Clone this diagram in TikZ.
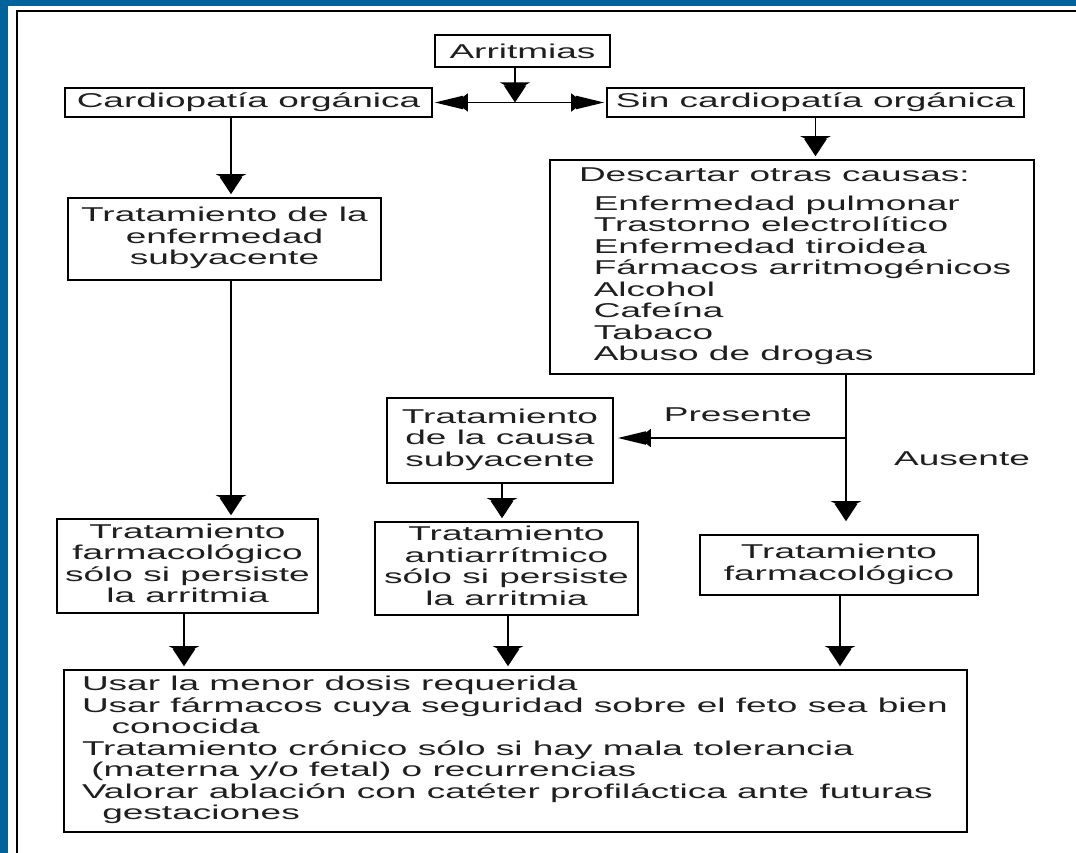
\documentclass[tikz,border=0pt]{standalone}
\usepackage{fontspec}
\setmainfont{Liberation Sans}
\usepackage{graphicx}
\usetikzlibrary{arrows.meta}
\definecolor{framebl}{RGB}{0,99,155}
% wide lettering used throughout the chart
\newcommand\wide[1]{\scalebox{1.85}[1]{#1}}
\newcommand\boxlines[1]{\wide{\begin{tabular}{@{}c@{}}#1\end{tabular}}}
\newcommand\listlines[1]{\wide{\begin{tabular}{@{}l@{}}#1\end{tabular}}}
\begin{document}
\begin{tikzpicture}[x=1pt,y=-1pt,
  font=\fontsize{20}{21.5}\selectfont,
  box/.style={draw, rectangle, line width=1.6pt, inner sep=0pt, text=black!88},
  link/.style={line width=1.8pt},
  vtip/.style={link, -{Triangle[width=30pt,length=8pt,sep=-5pt] Triangle[width=22pt,length=17pt]}, shorten >=3pt},
  htip/.style={link, -{Triangle[width=18pt,length=12pt,sep=-7pt] Triangle[width=13pt,length=28pt]}, shorten >=2pt},
  lab/.style={inner sep=0pt, text=black!88}]
\useasboundingbox (0,0) rectangle (1076,853);
% page and frame
\fill[white] (0,0) rectangle (1076,853);
\fill[framebl] (0,0) rectangle (1076,6);
\fill[framebl] (0,0) rectangle (8,853);
\draw[line width=1.8pt] (17,853) -- (17,11) -- (1076,11);

% boxes
\node[box, minimum width=175pt, minimum height=32pt] (arr) at (522.5,51) {\wide{Arritmias}};
\node[box, minimum width=367pt, minimum height=29pt] (cardio) at (248.5,102.5) {\wide{Cardiopatía orgánica}};
\node[box, minimum width=417pt, minimum height=29pt] (sin) at (815.5,102.5) {\wide{Sin cardiopatía orgánica}};
\node[box, minimum width=484pt, minimum height=214pt] (desc) at (792,267)
  {\hbox to 484pt{\hskip29pt\listlines{Descartar otras causas:\\[7pt]
   \hspace{8pt}Enfermedad pulmonar\\
   \hspace{8pt}Trastorno electrolítico\\
   \hspace{8pt}Enfermedad tiroidea\\
   \hspace{8pt}Fármacos arritmogénicos\\
   \hspace{8pt}Alcohol\\
   \hspace{8pt}Cafeína\\
   \hspace{8pt}Tabaco\\
   \hspace{8pt}Abuso de drogas}\hss}};
\node[box, minimum width=313pt, minimum height=82pt] (enf) at (224.5,239)
  {\boxlines{Tratamiento de la\\enfermedad\\subyacente}};
\node[box, minimum width=226pt, minimum height=85pt] (causa) at (500,440.5)
  {\boxlines{Tratamiento\\de la causa\\subyacente}};
\node[box, minimum width=261pt, minimum height=94pt] (farmL) at (187.5,566)
  {\boxlines{Tratamiento\\farmacológico\\sólo si persiste\\la arritmia}};
\node[box, minimum width=263pt, minimum height=93pt] (anti) at (506.5,568.5)
  {\boxlines{Tratamiento\\antiarrítmico\\sólo si persiste\\la arritmia}};
\node[box, minimum width=278pt, minimum height=60pt] (farmR) at (839,565)
  {\boxlines{Tratamiento\\farmacológico}};
\node[box, minimum width=903pt, minimum height=162pt] (usar) at (515.5,751)
  {\hbox to 903pt{\hskip18pt\listlines{Usar la menor dosis requerida\\
   Usar fármacos cuya seguridad sobre el feto sea bien\\
   \hspace{16pt}conocida\\
   Tratamiento crónico sólo si hay mala tolerancia\\
   \hspace{5pt}(materna y/o fetal) o recurrencias\\
   Valorar ablación con catéter profiláctica ante futuras\\
   \hspace{11pt}gestaciones}\hss}};

% branch labels
\node[lab] (pres) at (738,415) {\wide{Presente}};
\node[lab] (aus) at (962,459) {\wide{Ausente}};

% guide points for the vertical runs
\coordinate (fork) at (515,102.5);
\coordinate (split) at (846,438);
\coordinate (c1) at (231,0);
\coordinate (c2) at (184,0);
\coordinate (c4) at (502,0);
\coordinate (c5) at (508,0);
\coordinate (c6) at (840,0);

% connectors
\draw[vtip, shorten >=0pt] (arr.south -| fork) -- (fork);
\draw[htip] (fork) -- (cardio.east);
\draw[htip] (fork) -- (sin.west);
\draw[vtip] (cardio.south -| c1) -- (enf.north -| c1);
\draw[vtip] (enf.south -| c1) -- (farmL.north -| c1);
\draw[vtip] (farmL.south -| c2) -- (usar.north -| c2);
\draw[vtip] (sin.south) -- (desc.north -| sin.south);
\draw[link] (desc.south -| split) -- (split);
\draw[htip, shorten >=4pt] (split) -- (split -| causa.east);
\draw[vtip, shorten >=13pt] (split) -- (farmR.north -| split);
\draw[vtip] (causa.south -| c4) -- (anti.north -| c4);
\draw[vtip] (anti.south -| c5) -- (usar.north -| c5);
\draw[vtip] (farmR.south -| c6) -- (usar.north -| c6);
\end{tikzpicture}
\end{document}
